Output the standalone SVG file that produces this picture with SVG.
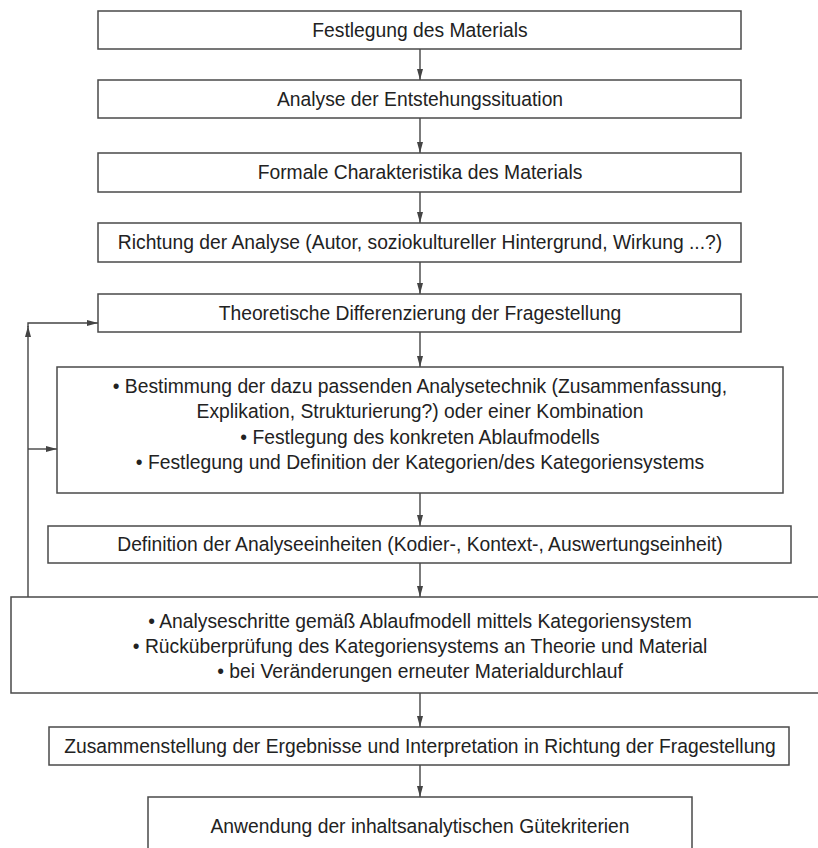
<svg xmlns="http://www.w3.org/2000/svg" width="818" height="848" viewBox="0 0 818 848">
<defs>
<marker id="ah" markerUnits="userSpaceOnUse" markerWidth="11" markerHeight="6" refX="11" refY="3" orient="auto">
<path d="M0,0 L11,3 L0,6 z" fill="#444"/>
</marker>
<style>
.box{fill:#fff;stroke:#4a4a4a;stroke-width:1.5}
.t{font-family:"Liberation Sans",Arial,sans-serif;font-size:19.3px;fill:#222;text-anchor:middle}
.c{fill:none;stroke:#444;stroke-width:1.4}
</style>
</defs>
<rect width="818" height="848" fill="#fff"/>
<g id="connectors">
<line class="c" x1="420" y1="49" x2="420" y2="80" marker-end="url(#ah)"/>
<line class="c" x1="420" y1="118" x2="420" y2="153" marker-end="url(#ah)"/>
<line class="c" x1="420" y1="192" x2="420" y2="223" marker-end="url(#ah)"/>
<line class="c" x1="420" y1="262" x2="420" y2="294" marker-end="url(#ah)"/>
<line class="c" x1="420" y1="332" x2="420" y2="367" marker-end="url(#ah)"/>
<line class="c" x1="420" y1="493" x2="420" y2="526" marker-end="url(#ah)"/>
<line class="c" x1="420" y1="563" x2="420" y2="597" marker-end="url(#ah)"/>
<line class="c" x1="420" y1="693" x2="420" y2="727" marker-end="url(#ah)"/>
<line class="c" x1="420" y1="765" x2="420" y2="797" marker-end="url(#ah)"/>
<line class="c" x1="28" y1="597" x2="28" y2="326" marker-end="url(#ah)"/>
<path class="c" d="M28,327 V323 H98" marker-end="url(#ah)"/>
<line class="c" x1="28" y1="449" x2="57" y2="449" marker-end="url(#ah)"/>
</g>
<g id="n1"><rect class="box" x="98" y="11" width="643" height="38"/><text class="t" x="420" y="37">Festlegung des Materials</text></g>
<g id="n2"><rect class="box" x="98" y="80" width="643" height="38"/><text class="t" x="420" y="106">Analyse der Entstehungssituation</text></g>
<g id="n3"><rect class="box" x="98" y="153" width="643" height="39"/><text class="t" x="420" y="179">Formale Charakteristika des Materials</text></g>
<g id="n4"><rect class="box" x="98" y="223" width="643" height="39"/><text class="t" x="420" y="249">Richtung der Analyse (Autor, soziokultureller Hintergrund, Wirkung ...?)</text></g>
<g id="n5"><rect class="box" x="98" y="294" width="643" height="38"/><text class="t" x="420" y="320">Theoretische Differenzierung der Fragestellung</text></g>
<g id="n6"><rect class="box" x="57" y="367" width="726" height="126"/>
<text class="t" x="420" y="393">• Bestimmung der dazu passenden Analysetechnik (Zusammenfassung,</text>
<text class="t" x="420" y="418">Explikation, Strukturierung?) oder einer Kombination</text>
<text class="t" x="420" y="444">• Festlegung des konkreten Ablaufmodells</text>
<text class="t" x="420" y="469">• Festlegung und Definition der Kategorien/des Kategoriensystems</text></g>
<g id="n7"><rect class="box" x="48" y="526" width="743" height="37"/><text class="t" x="420" y="551">Definition der Analyseeinheiten (Kodier-, Kontext-, Auswertungseinheit)</text></g>
<g id="n8"><rect class="box" x="11" y="597" width="812" height="96"/>
<text class="t" x="420" y="628">• Analyseschritte gemäß Ablaufmodell mittels Kategoriensystem</text>
<text class="t" x="420" y="653">• Rücküberprüfung des Kategoriensystems an Theorie und Material</text>
<text class="t" x="420" y="678">• bei Veränderungen erneuter Materialdurchlauf</text></g>
<g id="n9"><rect class="box" x="49" y="727" width="740" height="38"/><text class="t" x="420" y="753">Zusammenstellung der Ergebnisse und Interpretation in Richtung der Fragestellung</text></g>
<g id="n10"><rect class="box" x="148" y="797" width="544" height="60"/><text class="t" x="420" y="833">Anwendung der inhaltsanalytischen Gütekriterien</text></g>
</svg>
